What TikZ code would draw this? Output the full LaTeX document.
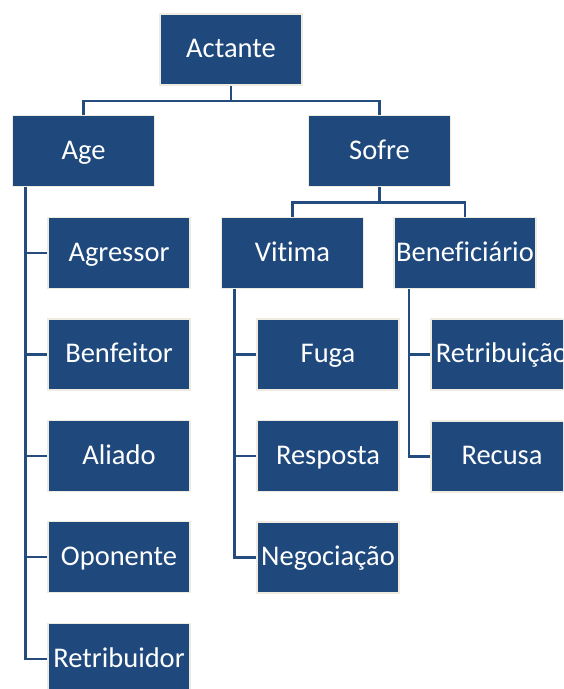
\documentclass[tikz,border=0pt]{standalone}
\usepackage{fontspec}
\setmainfont[Ligatures=NoCommon]{Carlito}
\usepackage{tikz}
\usetikzlibrary{
    calc,
    positioning
}
\definecolor{boxfill}{RGB}{31,73,125}
\definecolor{boxrim}{RGB}{238,236,225}
\definecolor{wire}{RGB}{36,76,126}
\tikzset{
    line cap=round,
    line join=round,
    role/.style={
        rectangle,
        draw=boxrim,
        line width=1.8pt,
        fill=boxfill,
        text=white,
        minimum width=142pt,
        minimum height=71pt,
        inner sep=0pt,
        text height=22pt,
        text depth=5.5pt,
        align=center,
        font=\fontsize{28.5}{32}\selectfont
    },
    link/.style={
        -,
        draw=wire,
        line width=2.4pt,
        line cap=butt,
        line join=miter
    }
}

\begin{document}
\begin{tikzpicture}[x=1pt, y=-1pt]

    % Frame (the picture is cut at its right and lower edges)
    \path[clip] (0,0) rectangle (563,689);

% Top of the tree
\node[role] (actante) at (231,49.5) {Actante};
\node[role] (age) at (83.5,151) {Age};
\node[role] (sofre) at (379.5,151) {Sofre};

% Sofre splits in two
\node[role] (vitima) at (292.5,253) {Vitima};
\node[role] (benef) at (465,253) {Beneficiário};

% Children of Age
\node[role] (agressor) at (119,253) {Agressor};
\node[role] (benfeitor) at (119,354.5) {Benfeitor};
\node[role] (aliado) at (119,456) {Aliado};
\node[role] (oponente) at (119,557) {Oponente};
\node[role] (retribuidor) at (119,659) {Retribuidor};

% Children of Vitima
\node[role] (fuga) at (328,354.5) {Fuga};
\node[role] (resposta) at (328,456) {Resposta};
\node[role] (negociacao) at (328,557.5) {Negociação};

% Children of Beneficiario
\node[role] (retribuicao) at (502,354.5) {Retribuição};
\node[role] (recusa) at (502,456.5) {Recusa};

% Forks below Actante and Sofre
\draw[link] (actante.south) -- ++(0,15) -| (age.north);
\draw[link] (actante.south) -- ++(0,15) -| (sofre.north);
\draw[link] (sofre.south) -- ++(0,15) -| (vitima.north);
\draw[link] (sofre.south) -- ++(0,15) -| (benef.north);

% Side trunks
\coordinate (agetrunk) at ([xshift=14pt]age.south west);
\coordinate (vitimatrunk) at ([xshift=14pt]vitima.south west);
\coordinate (beneftrunk) at ([xshift=16pt]benef.south west);
\foreach \kid in {agressor,benfeitor,aliado,oponente,retribuidor}
    \draw[link] (agetrunk) |- (\kid.west);
\foreach \kid in {fuga,resposta,negociacao}
    \draw[link] (vitimatrunk) |- (\kid.west);
\foreach \kid in {retribuicao,recusa}
    \draw[link] (beneftrunk) |- (\kid.west);

\end{tikzpicture}
\end{document}
